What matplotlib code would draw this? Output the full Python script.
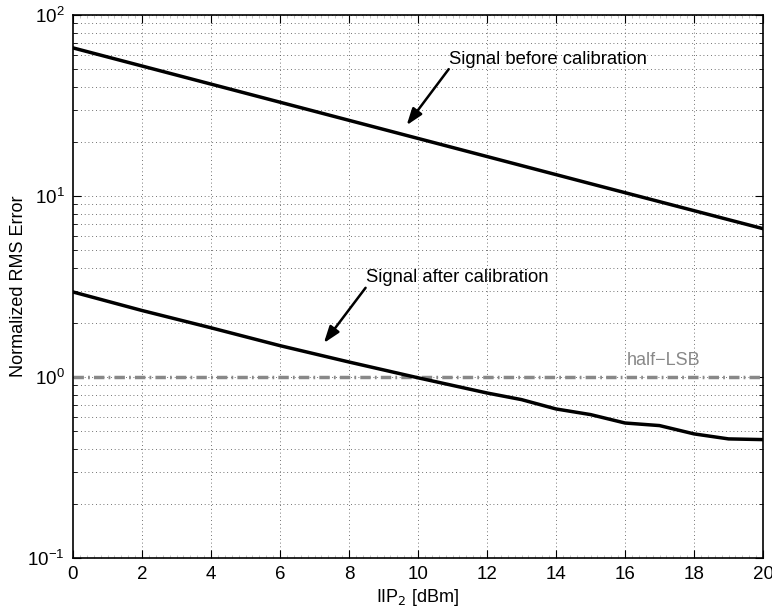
import matplotlib
matplotlib.use("Agg")
import matplotlib.pyplot as plt
from matplotlib.ticker import LogLocator, MultipleLocator, NullFormatter

plt.rcParams['font.family'] = ['Liberation Sans', 'DejaVu Sans']

# Data
x_before = [0, 5, 10, 15, 20]
y_before = [65.8, 37.0, 20.8, 11.7, 6.6]

x_after = [0, 2, 4, 6, 8, 10, 12, 13, 14, 15, 16, 17, 18, 19, 20]
y_after = [2.95, 2.33, 1.87, 1.49, 1.21, 0.99, 0.816, 0.75, 0.666, 0.62, 0.557, 0.539, 0.485, 0.455, 0.451]

half_lsb = 1.0
xticks = list(range(0, 21, 2))

fig = plt.figure(figsize=(7.72, 6.13), dpi=100)
ax = fig.add_axes([73/772, 1-558/613, (763-73)/772, (558-15)/613])

ax.set_yscale('log')
ax.set_xlim(0, 20)
ax.set_ylim(0.1, 100)

grid_kw = dict(color='#444444', linestyle=(0, (1, 3.5)), linewidth=0.6)
for xv in xticks[1:-1]:
    ax.axvline(xv, zorder=0, **grid_kw)
ax.yaxis.grid(True, which='both', **grid_kw)
ax.set_axisbelow(True)

ax.plot(x_before, y_before, color='black', linewidth=2.5, zorder=3)
ax.plot(x_after, y_after, color='black', linewidth=2.5, zorder=3)
ax.axhline(half_lsb, color='#888888', linewidth=2.5, linestyle=(0, (3, 1.2, 0.5, 1.2)), zorder=2)

ax.text(16.05, 1.23, 'half\u2212LSB', color='#888888', fontsize=13, ha='left', va='center')

arrow_kw = dict(arrowstyle='-|>,head_length=1.0,head_width=0.35', color='black', lw=1.8,
                shrinkA=0, shrinkB=0)
ax.annotate('', xy=(9.67, 24.6), xytext=(10.89, 50.2), arrowprops=arrow_kw)
ax.text(10.89, 57.0, 'Signal before calibration', fontsize=13.3, ha='left', va='center')
ax.annotate('', xy=(7.27, 1.54), xytext=(8.48, 3.11), arrowprops=arrow_kw)
ax.text(8.48, 3.53, 'Signal after calibration', fontsize=13.3, ha='left', va='center')

ax.set_xticks(xticks)
ax.xaxis.set_minor_locator(MultipleLocator(0.2))
ax.yaxis.set_major_locator(LogLocator(base=10, numticks=10))
ax.yaxis.set_minor_locator(LogLocator(base=10, subs=range(2, 10), numticks=20))
ax.yaxis.set_minor_formatter(NullFormatter())
ax.tick_params(which='major', direction='in', length=6, width=0.8, top=True, right=True,
               labelsize=13.5, pad=6)
ax.tick_params(which='minor', direction='in', length=3, width=0.6, top=True, right=True)
ax.tick_params(axis='x', which='minor', length=2, width=0.4, colors='#999999')

for s in ax.spines.values():
    s.set_linewidth(1.2)

ax.set_xlabel('IIP$_2$ [dBm]', fontsize=13, labelpad=3)
ax.set_ylabel('Normalized RMS Error', fontsize=13, labelpad=0)

fig.savefig('out.png', dpi=100)
